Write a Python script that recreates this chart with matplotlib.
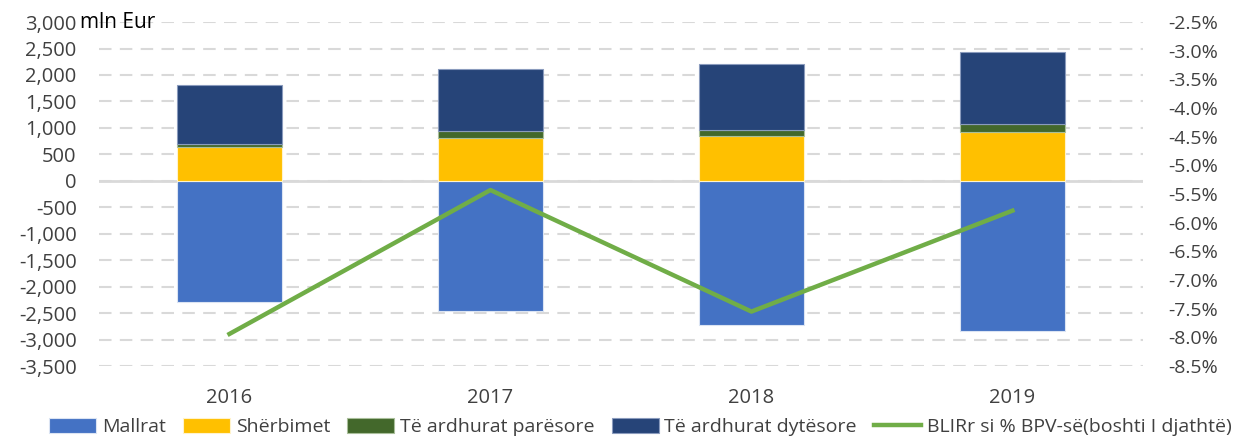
import numpy as np
import matplotlib.pyplot as plt
from matplotlib.ticker import FuncFormatter

plt.rcParams['font.family'] = ['Open Sans', 'DejaVu Sans']

# Të dhënat (mln Eur)
vitet = ['2016', '2017', '2018', '2019']
mallrat = [-2290, -2465, -2725, -2840]
sherbimet = [630, 815, 850, 925]
te_ardhurat_paresore = [75, 130, 108, 140]
te_ardhurat_dytesore = [1100, 1165, 1253, 1360]
blirr_bpv = [-7.94, -5.43, -7.55, -5.79]  # % e BPV-së (boshti i djathtë)

ngjyrat = ['#4472C4', '#FFC000', '#43682B', '#264478']
gjelber = '#70AD47'
gri = '#404040'

fig = plt.figure(figsize=(12.34, 4.41), dpi=100)
ax = fig.add_axes([0.0802, 0.170, 0.846, 0.780])
x = np.arange(len(vitet))
w = 0.4

ax.bar(x, mallrat, w, color=ngjyrat[0], edgecolor='#dbe4f3', linewidth=0.8,
       label='Mallrat', zorder=3)
ax.bar(x, sherbimet, w, color=ngjyrat[1], edgecolor='#fff3cc', linewidth=0.8,
       label='Shërbimet', zorder=3)
baza = np.array(sherbimet)
ax.bar(x, te_ardhurat_paresore, w, bottom=baza, color=ngjyrat[2],
       edgecolor='#a9bf9a', linewidth=0.8, label='Të ardhurat parësore', zorder=3)
baza = baza + np.array(te_ardhurat_paresore)
ax.bar(x, te_ardhurat_dytesore, w, bottom=baza, color=ngjyrat[3],
       edgecolor='#8a9bbd', linewidth=0.8, label='Të ardhurat dytësore', zorder=3)

ax.set_xlim(-0.5, 3.5)
ax.set_ylim(-3500, 3000)
ax.set_yticks(np.arange(-3500, 3001, 500))
ax.yaxis.set_major_formatter(FuncFormatter(lambda v, p: f'{v:,.0f}'))
ax.set_xticks(x)
ax.set_xticklabels(vitet)
ax.grid(axis='y', color='#d9d9d9', linestyle=(0, (6, 4)), linewidth=1.5, zorder=0)
ax.axhline(0, color='#d9d9d9', linewidth=2, zorder=2)
for s in ax.spines.values():
    s.set_visible(False)
ax.tick_params(axis='y', length=0, pad=16, labelsize=14.5, labelcolor=gri)
ax.tick_params(axis='x', length=0, pad=16, labelsize=14.5, labelcolor=gri)

ax2 = ax.twinx()
ax2.plot(x, blirr_bpv, color=gjelber, linewidth=3.2,
         label='BLIRr si % BPV-së(boshti I djathtë)', zorder=4)
ax2.set_ylim(-8.5, -2.5)
ax2.set_yticks(np.arange(-8.5, -2.49, 0.5))
ax2.yaxis.set_major_formatter(FuncFormatter(lambda v, p: f'{v:.1f}%'))
for s in ax2.spines.values():
    s.set_visible(False)
ax2.tick_params(axis='y', length=0, pad=18, labelsize=14, labelcolor=gri)

fig.text(0.065, 0.948, 'mln Eur', fontsize=15, color='black', va='center', ha='left')

h1, l1 = ax.get_legend_handles_labels()
h2, l2 = ax2.get_legend_handles_labels()
fig.legend(h1 + h2, l1 + l2, loc='center', bbox_to_anchor=(0.519, 0.032),
           ncol=5, frameon=False, fontsize=14, handlelength=2.4, handleheight=0.8,
           handletextpad=0.3, columnspacing=0.9, labelcolor=gri,
           borderpad=0.1)

fig.savefig('out.png', dpi=100)
